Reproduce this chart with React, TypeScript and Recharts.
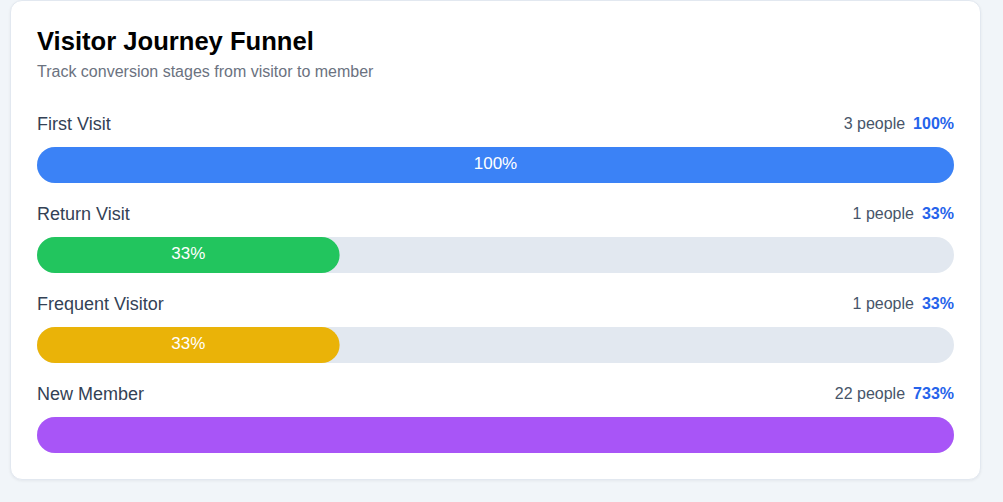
import React from "react";
import { BarChart, Bar, XAxis, YAxis, Cell, Rectangle } from "recharts";

const stages = ["First Visit", "Return Visit", "Frequent Visitor", "New Member"];
const people = [3, 1, 1, 22];
const percents = [100, 33, 33, 733];
const colors = ["#3b82f6", "#22c55e", "#eab308", "#a855f7"];

const data = stages.map((name, i) => ({
  name,
  people: people[i],
  pct: percents[i],
  bar: Math.min(percents[i], 100),
}));

const FONT = '"Liberation Sans", Arial, Helvetica, sans-serif';
const CHART_W = 917;

const RowShape = (props: any) => {
  const { x, y, width, height, index, fill, background } = props;
  const d = data[index];
  const bx = background ? background.x : x;
  const bw = background ? background.width : CHART_W;
  const right = bx + bw;
  return (
    <g>
      <Rectangle x={x} y={y} width={width} height={height} radius={height / 2} fill={fill} />
      <text x={bx} y={y - 17} fontSize={18} fill="#334155" fontFamily={FONT}>
        {d.name}
      </text>
      <text x={right} y={y - 18.5} textAnchor="end" fontFamily={FONT} fontSize={16}>
        <tspan fill="#475569">{`${d.people} people`}</tspan>
        <tspan dx={8} fill="#2563eb" fontWeight="bold">{`${d.pct}%`}</tspan>
      </text>
      {d.pct <= 100 && (
        <text
          x={x + width / 2}
          y={y + height / 2 + 4}
          textAnchor="middle"
          fontSize={17}
          fill="#ffffff"
          fontFamily={FONT}
        >
          {`${d.pct}%`}
        </text>
      )}
    </g>
  );
};

export default function App() {
  return (
    <div
      style={{
        position: "fixed",
        left: 0,
        top: 0,
        width: 1003,
        height: 502,
        background: "#f1f5f9",
        overflow: "hidden",
        fontFamily: FONT,
      }}
    >
      <div
        style={{
          position: "absolute",
          left: 10,
          top: 0,
          width: 971,
          height: 480,
          boxSizing: "border-box",
          background: "#ffffff",
          border: "1px solid #e2e8f0",
          borderRadius: 12,
          boxShadow: "0 1px 3px rgba(15,23,42,0.06)",
        }}
      />
      <div
        style={{
          position: "absolute",
          left: 37,
          top: 27.5,
          fontSize: 25.6,
          lineHeight: "26px",
          fontWeight: 700,
          color: "#000000",
          whiteSpace: "nowrap",
        }}
      >
        Visitor Journey Funnel
      </div>
      <div
        style={{
          position: "absolute",
          left: 37,
          top: 63.5,
          fontSize: 16,
          lineHeight: "16px",
          color: "#6b7280",
          whiteSpace: "nowrap",
        }}
      >
        Track conversion stages from visitor to member
      </div>
      <div style={{ position: "absolute", left: 37, top: 100 }}>
        <BarChart
          width={CHART_W}
          height={380}
          data={data}
          layout="vertical"
          margin={{ top: 20, right: 0, bottom: 0, left: 0 }}
          barSize={36}
        >
          <XAxis type="number" domain={[0, 100]} hide />
          <YAxis type="category" dataKey="name" hide />
          <Bar
            dataKey="bar"
            isAnimationActive={false}
            background={{ fill: "#e2e8f0", radius: 18 } as any}
            shape={RowShape}
          >
            {data.map((d, i) => (
              <Cell key={d.name} fill={colors[i]} />
            ))}
          </Bar>
        </BarChart>
      </div>
    </div>
  );
}
